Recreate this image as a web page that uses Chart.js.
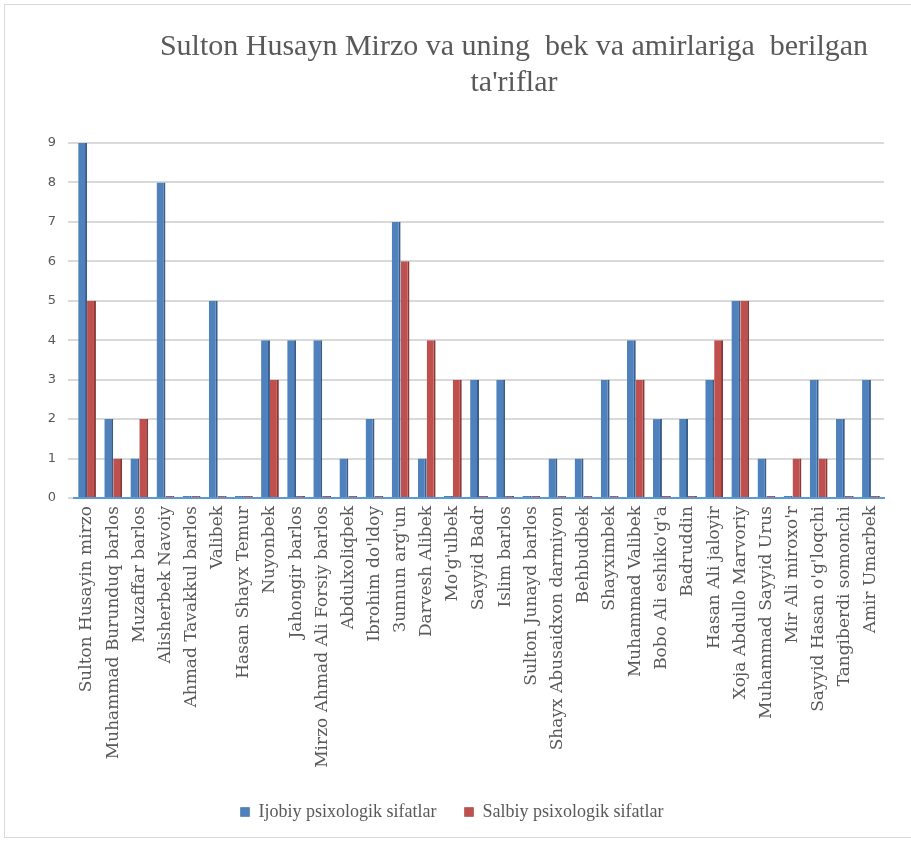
<!DOCTYPE html>
<html>
<head>
<meta charset="utf-8">
<script src="https://cdn.jsdelivr.net/npm/chart.js@4/dist/chart.umd.min.js"></script>
<style>
  html, body { margin: 0; padding: 0; background: #fff; }
  #wrap { position: relative; width: 911px; height: 841px; }
  #frame { position: absolute; left: 4px; top: 4px; width: 920px; height: 834px; border: 1px solid #d9d9d9; box-sizing: border-box; pointer-events: none; }
</style>
</head>
<body>
<div id="wrap">
  <canvas id="chart"></canvas>
  <div id="frame"></div>
</div>
<script>
const names = [
  'Sulton Husayin mirzo', 'Muhammad Burunduq barlos', 'Muzaffar barlos', 'Alisherbek Navoiy',
  'Ahmad Tavakkul barlos', 'Valibek', 'Hasan Shayx Temur', 'Nuyonbek', 'Jahongir barlos',
  'Mirzo Ahmad Ali Forsiy barlos', 'Abdulxoliqbek', "Ibrohim do'ldoy", "Зunnun arg'un",
  'Darvesh Alibek', "Mo'g'ulbek", 'Sayyid Badr', 'Islim barlos', 'Sulton Junayd barlos',
  'Shayx Abusaidxon darmiyon', 'Behbudbek', 'Shayximbek', 'Muhammad Valibek',
  "Bobo Ali eshiko'g'a", 'Badruddin', 'Hasan Ali jaloyir', 'Xoja Abdullo Marvoriy',
  'Muhammad Sayyid Urus', "Mir Ali miroxo'r", "Sayyid Hasan o'g'loqchi", 'Tangiberdi somonchi',
  'Amir Umarbek'
];
const positive = [9, 2, 1, 8, 0, 5, 0, 4, 4, 4, 1, 2, 7, 1, 0, 3, 3, 0, 1, 1, 3, 4, 2, 2, 3, 5, 1, 0, 3, 2, 3];
const negative = [5, 1, 2, 0, 0, 0, 0, 3, 0, 0, 0, 0, 6, 4, 3, 0, 0, 0, 0, 0, 0, 3, 0, 0, 4, 5, 0, 1, 1, 0, 0];
const seriesNames = ['Ijobiy psixologik sifatlar', 'Salbiy psixologik sifatlar'];
const titleLines = ['Sulton Husayn Mirzo va uning  bek va amirlariga  berilgan', "ta'riflar"];

const grey = '#595959';

// title and legend sit a bit right of the canvas centre in the original
const shiftBlocks = {
  id: 'shiftBlocks',
  afterLayout(chart) {
    chart.titleBlock.left += 72;
    chart.titleBlock.right += 72;
    chart.legend.left += 10;
    chart.legend.right += 10;
  }
};

new Chart(document.getElementById('chart'), {
  type: 'bar',
  data: {
    labels: names,
    datasets: [
      {
        label: seriesNames[0], data: positive,
        backgroundColor: '#4F81BD', borderColor: '#385D8A',
        borderWidth: { right: 2, left: 0, top: 0, bottom: 0 }
      },
      {
        label: seriesNames[1], data: negative,
        backgroundColor: '#C0504D', borderColor: '#8C3836',
        borderWidth: { right: 2, left: 0, top: 0, bottom: 0 }
      }
    ]
  },
  options: {
    responsive: true,
    maintainAspectRatio: false,
    animation: false,
    categoryPercentage: 0.68,
    barPercentage: 1,
    minBarLength: 2,
    layout: { padding: { left: 0, right: 27, top: 0, bottom: 10 } },
    plugins: {
      title: {
        display: true,
        text: titleLines,
        color: grey,
        font: { family: 'Liberation Serif', size: 30, weight: 'normal' },
        padding: { top: 29, bottom: 42 }
      },
      legend: {
        position: 'bottom',
        labels: {
          color: grey,
          font: { family: 'Liberation Serif', size: 18 },
          boxWidth: 9, boxHeight: 9,
          padding: 28
        }
      },
      tooltip: { enabled: false }
    },
    scales: {
      x: {
        grid: { display: false },
        border: { color: '#5B9BD5', width: 2 },
        ticks: {
          color: grey,
          font: { family: "'DejaVu Serif'", size: 17 },
          minRotation: 90, maxRotation: 90,
          autoSkip: false, padding: 0
        },
        afterFit: (scale) => { scale.height = 277; }
      },
      y: {
        min: 0, max: 9,
        ticks: {
          stepSize: 1, color: grey,
          font: { family: "'DejaVu Sans'", size: 13 },
          padding: 12
        },
        grid: { color: '#d9d9d9', lineWidth: 2, tickLength: 6 },
        border: { display: false },
        afterFit: (scale) => { scale.width = 74; }
      }
    }
  },
  plugins: [shiftBlocks]
});
</script>
</body>
</html>
